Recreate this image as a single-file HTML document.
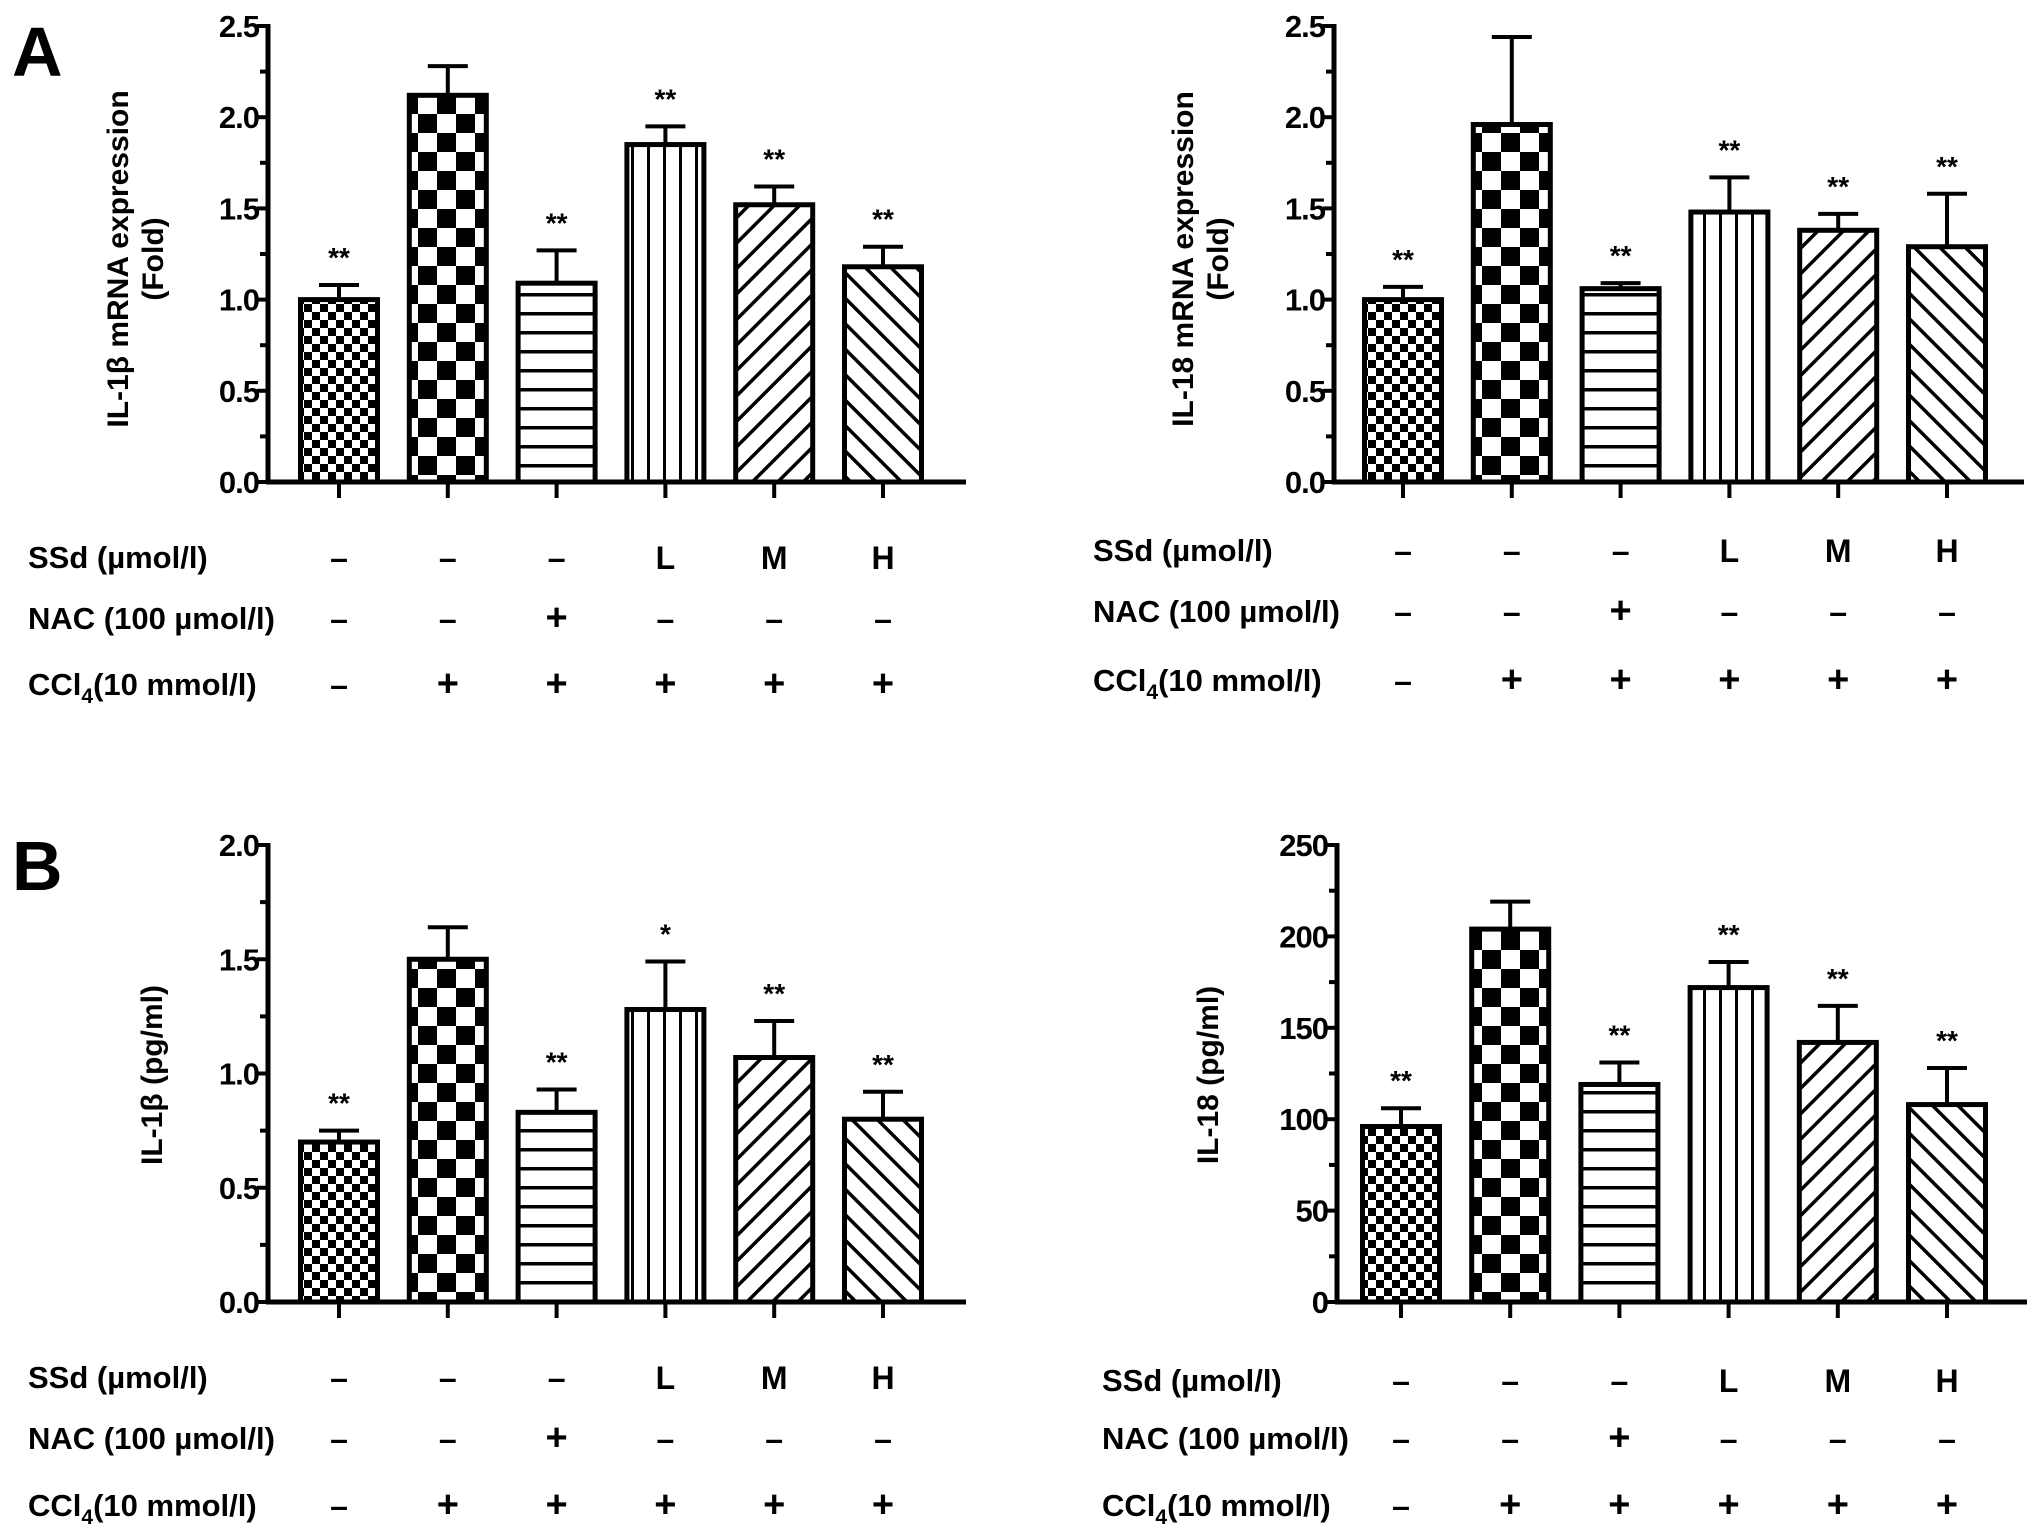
<!DOCTYPE html>
<html><head><meta charset="utf-8">
<style>
html,body{margin:0;padding:0;background:#fff;}
svg{display:block;font-family:"Liberation Sans",Arial,sans-serif;font-weight:bold;}
</style></head>
<body>
<svg id="fig" width="2031" height="1540" viewBox="0 0 2031 1540" xmlns="http://www.w3.org/2000/svg">
<defs>
<pattern id="p-smallcheck" width="16" height="16" patternUnits="userSpaceOnUse">
<rect width="16" height="16" fill="#fff"/><rect width="8" height="8" fill="#000"/><rect x="8" y="8" width="8" height="8" fill="#000"/></pattern>
<pattern id="p-bigcheck" width="38" height="38" patternUnits="userSpaceOnUse">
<rect width="38" height="38" fill="#fff"/><rect width="19" height="19" fill="#000"/><rect x="19" y="19" width="19" height="19" fill="#000"/></pattern>
<pattern id="p-hlines" width="10" height="19" patternUnits="userSpaceOnUse">
<rect width="10" height="19" fill="#fff"/><rect y="8" width="10" height="3.5" fill="#000"/></pattern>
<pattern id="p-vlines" width="16" height="10" patternUnits="userSpaceOnUse">
<rect width="16" height="10" fill="#fff"/><rect x="7" width="3" height="10" fill="#000"/></pattern>
<pattern id="p-diag1" width="18" height="18" patternUnits="userSpaceOnUse" patternTransform="rotate(45)">
<rect width="18" height="18" fill="#fff"/><rect x="7" width="3.5" height="18" fill="#000"/></pattern>
<pattern id="p-diag2" width="18" height="18" patternUnits="userSpaceOnUse" patternTransform="rotate(-45)">
<rect width="18" height="18" fill="#fff"/><rect x="7" width="3.5" height="18" fill="#000"/></pattern>
</defs>
<text x="12" y="76" font-size="70">A</text>
<text x="12" y="890" font-size="70">B</text>
</svg>
<script>
// Panel A-left: IL-1β mRNA
const aLeftValues = [1.0, 2.12, 1.09, 1.85, 1.52, 1.18];
const aLeftErrors = [0.08, 0.16, 0.18, 0.10, 0.10, 0.11];
const aLeftStars = ["**", "", "**", "**", "**", "**"];
const aLeftTicks = ["0.0", "0.5", "1.0", "1.5", "2.0", "2.5"];
// Panel A-right: IL-18 mRNA
const aRightValues = [1.0, 1.96, 1.06, 1.48, 1.38, 1.29];
const aRightErrors = [0.07, 0.48, 0.03, 0.19, 0.09, 0.29];
const aRightStars = ["**", "", "**", "**", "**", "**"];
const aRightTicks = ["0.0", "0.5", "1.0", "1.5", "2.0", "2.5"];
// Panel B-left: IL-1β pg/ml
const bLeftValues = [0.70, 1.50, 0.83, 1.28, 1.07, 0.80];
const bLeftErrors = [0.05, 0.14, 0.10, 0.21, 0.16, 0.12];
const bLeftStars = ["**", "", "**", "*", "**", "**"];
const bLeftTicks = ["0.0", "0.5", "1.0", "1.5", "2.0"];
// Panel B-right: IL-18 pg/ml
const bRightValues = [96, 204, 119, 172, 142, 108];
const bRightErrors = [10, 15, 12, 14, 20, 20];
const bRightStars = ["**", "", "**", "**", "**", "**"];
const bRightTicks = ["0", "50", "100", "150", "200", "250"];
// Treatment table
const ssdRow = ["–", "–", "–", "L", "M", "H"];
const nacRow = ["–", "–", "+", "–", "–", "–"];
const cclRow = ["–", "+", "+", "+", "+", "+"];

const fills = ["url(#p-smallcheck)","url(#p-bigcheck)","url(#p-hlines)","url(#p-vlines)","url(#p-diag1)","url(#p-diag2)"];
const NS = "http://www.w3.org/2000/svg";
const svg = document.getElementById('fig');
function mk(tag, attrs, parent){
  const e = document.createElementNS(NS, tag);
  for (const k in attrs) e.setAttribute(k, attrs[k]);
  (parent||svg).appendChild(e);
  return e;
}
function panel(cfg){
  const g = mk('g', {});
  
  
  const y0 = cfg.y0, yTop = cfg.yTop, ax = cfg.ax;
  const ticks = cfg.ticks.map(Number);
  const maxV = ticks[ticks.length-1];
  const ys = v => y0 - (v / maxV) * (y0 - yTop);
  const xs = i => cfg.x0 + i * cfg.step;
  const majStep = ticks[1] - ticks[0];
  cfg.ticks.forEach((t, i) => {
    const y = ys(ticks[i]);
    const tk = mk('line', {x1: ax-11, x2: ax, y1: y, y2: y, stroke: '#000', 'stroke-width': 4}, g);
    
    
    const lb = mk('text', {x: ax-9, y: y+11, 'font-size': 31, 'text-anchor': 'end', 'letter-spacing': -1}, g);
    lb.textContent = t;
    
    
    if (i < ticks.length-1) {
      const ym = ys(ticks[i] + majStep/2);
      const mt = mk('line', {x1: ax-8, x2: ax, y1: ym, y2: ym, stroke: '#000', 'stroke-width': 4}, g);
      
      
    }
  });
  const yAxis = mk('line', {x1: ax, x2: ax, y1: yTop-2, y2: y0+2, stroke: '#000', 'stroke-width': 5}, g);
  
  
  const xAxis = mk('line', {x1: ax-2, x2: cfg.axEnd, y1: y0, y2: y0, stroke: '#000', 'stroke-width': 5}, g);
  
  
  const tt = mk('text', {transform: `translate(${cfg.titleX},${cfg.titleY}) rotate(-90)`, 'font-size': 30, 'text-anchor': 'middle'}, g);
  
  
  cfg.title.forEach((line, k) => {
    const ts = mk('tspan', {x: 0, dy: k === 0 ? 0 : 35}, tt);
    ts.textContent = line;
  });
  cfg.values.forEach((v, i) => {
    const cx = xs(i), w = 77;
    const top = ys(v), etop = ys(v + cfg.errors[i]);
    const el = mk('line', {x1: cx, x2: cx, y1: top, y2: etop, stroke: '#000', 'stroke-width': 4}, g);
    
    
    const cap = mk('line', {x1: cx-20, x2: cx+20, y1: etop, y2: etop, stroke: '#000', 'stroke-width': 4}, g);
    
    
    const r = mk('rect', {x: cx - w/2, y: top, width: w, height: y0 - top, fill: fills[i], stroke: '#000', 'stroke-width': 5}, g);
    
    
    const xt = mk('line', {x1: cx, x2: cx, y1: y0, y2: y0+16, stroke: '#000', 'stroke-width': 4}, g);
    
    
    if (cfg.stars[i]) {
      const st = mk('text', {x: cx, y: etop - 18, 'font-size': 28, 'text-anchor': 'middle'}, g);
      st.textContent = cfg.stars[i];
      
      
    }
  });
  const rows = [ssdRow, nacRow, cclRow];
  const rowNames = ['ssd-row', 'nac-row', 'ccl4-row'];
  rows.forEach((row, r) => {
    const ry = cfg.rowY[r];
    const lab = mk('text', {x: cfg.labX, y: ry + 11, 'font-size': 31}, g);
    
    
    if (r === 0) lab.textContent = 'SSd (µmol/l)';
    else if (r === 1) lab.textContent = 'NAC (100 µmol/l)';
    else {
      const a = mk('tspan', {}, lab); a.textContent = 'CCl';
      const b = mk('tspan', {dy: 8, 'font-size': 21}, lab); b.textContent = '4';
      const c = mk('tspan', {dy: -8}, lab); c.textContent = '(10 mmol/l)';
    }
    row.forEach((s, i) => {
      const t = mk('text', {x: xs(i), y: ry + 12, 'font-size': s === '+' ? 38 : 32, 'text-anchor': 'middle'}, g);
      t.textContent = s;
      
      
    });
  });
}
panel({name:'panel-a-il1b-mrna', values:aLeftValues, errors:aLeftErrors, stars:aLeftStars, ticks:aLeftTicks,
  ax:268, axEnd:966, y0:482, yTop:26, x0:339, step:108.8, titleX:128, titleY:259,
  title:['IL-1β mRNA expression','(Fold)'], labX:28, rowY:[557,618,684]});
panel({name:'panel-a-il18-mrna', values:aRightValues, errors:aRightErrors, stars:aRightStars, ticks:aRightTicks,
  ax:1334, axEnd:2024, y0:482, yTop:26, x0:1403, step:108.8, titleX:1193, titleY:259,
  title:['IL-18 mRNA expression','(Fold)'], labX:1093, rowY:[550,611,680]});
panel({name:'panel-b-il1b-protein', values:bLeftValues, errors:bLeftErrors, stars:bLeftStars, ticks:bLeftTicks,
  ax:268, axEnd:966, y0:1302, yTop:845, x0:339, step:108.8, titleX:162, titleY:1075,
  title:['IL-1β  (pg/ml)'], labX:28, rowY:[1377,1438,1505]});
panel({name:'panel-b-il18-protein', values:bRightValues, errors:bRightErrors, stars:bRightStars, ticks:bRightTicks,
  ax:1337, axEnd:2027, y0:1302, yTop:845, x0:1401, step:109.2, titleX:1218, titleY:1075,
  title:['IL-18  (pg/ml)'], labX:1102, rowY:[1380,1438,1505]});
</script>
</body></html>
